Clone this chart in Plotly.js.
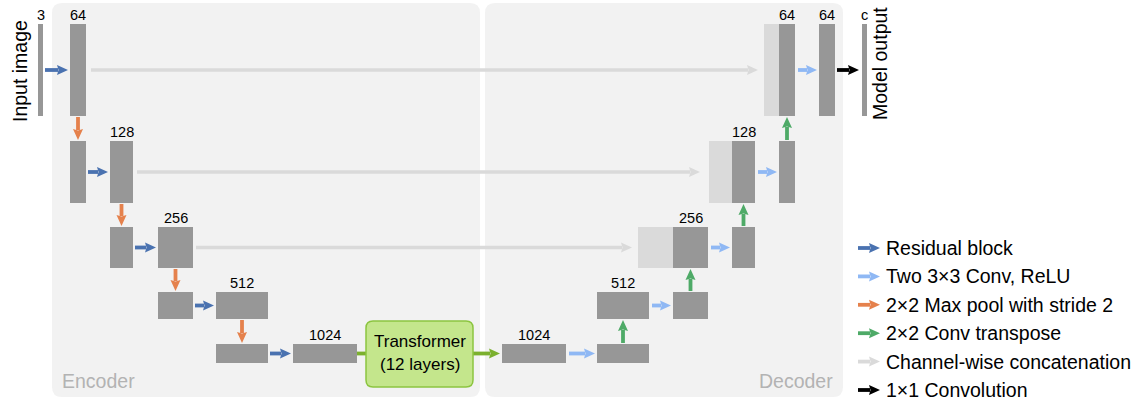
<!DOCTYPE html>
<html><head><meta charset="utf-8">
<script src="https://cdn.plot.ly/plotly-3.0.1.min.js"></script>
<style>body{margin:0;background:#fff}#chart{width:1146px;height:400px}</style>
</head><body><div id="chart"></div>
<script>
// ---- content ----
const encoderChannels = ['64', '128', '256', '512', '1024'];
const decoderChannels = ['1024', '512', '256', '128', '64'];
const inputChannels = '3';
const outputChannels = 'c';
const finalChannels = '64';
const transformerLabel = ['Transformer', '(12 layers)'];
const legendLabels = ['Residual block', 'Two 3×3 Conv, ReLU', '2×2 Max pool with stride 2',
  '2×2 Conv transpose', 'Channel-wise concatenation', '1×1 Convolution'];
const legendKeys = ['res', 'conv', 'pool', 'up', 'cat', 'out'];
const panelLabels = ['Encoder', 'Decoder'];
const sideLabels = ['Input image', 'Model output'];

// ---- styles ----
const COL = {res: '#4a72b0', conv: '#8fb8f4', pool: '#e5814c', up: '#4eaa67', cat: '#dadada',
  out: '#000000', trans: '#7bb02e', block: '#979797', light: '#dadada', panel: '#f2f2f2'};
const FONT = 'Liberation Sans, Arial, sans-serif';

// ---- layout geometry (pixel space of the drawing) ----
const rowTop = [24, 141, 227, 292, 344];
const rowBot = [116, 203, 268, 319, 363];
const rowMid = rowTop.map((t, i) => (t + rowBot[i]) / 2);
const encPool = [[38, 43], [70, 86], [110, 133], [158, 193], [216, 268]]; // row0: input bar
const encConv = [[70, 86], [110, 133], [158, 193], [216, 268], [293, 357]];
const decMain = [[779, 795], [732, 755], [673, 708], [597, 649], [502, 566]]; // dark block
const decLight = [[764, 779], [709, 732], [638, 673], null, null];
const decConv = [[819, 835], [779, 795], [732, 755], [673, 708], [597, 649]];
const outBar = [862, 867];

const shapes = [];
const ann = [];

function rrect(x0, y0, x1, y1, r) {
  return `M${x0 + r},${y0} L${x1 - r},${y0} Q${x1},${y0} ${x1},${y0 + r} L${x1},${y1 - r} Q${x1},${y1} ${x1 - r},${y1} L${x0 + r},${y1} Q${x0},${y1} ${x0},${y1 - r} L${x0},${y0 + r} Q${x0},${y0} ${x0 + r},${y0} Z`;
}
function rect(x, r, color) {
  shapes.push({type: 'rect', xref: 'x', yref: 'y', x0: x[0], x1: x[1], y0: rowTop[r], y1: rowBot[r],
    fillcolor: color, line: {width: 0}});
}
function arrow(x0, y0, x1, y1, color, lw, hl, hw) {
  lw = lw || 3.8; hl = hl || 11; hw = hw || 5;
  const L = Math.hypot(x1 - x0, y1 - y0), dx = (x1 - x0) / L, dy = (y1 - y0) / L;
  const bx = x1 - dx * hl, by = y1 - dy * hl, px = -dy, py = dx;
  shapes.push({type: 'line', xref: 'x', yref: 'y', x0: x0, y0: y0, x1: bx + dx * 1, y1: by + dy * 1,
    line: {color: color, width: lw}});
  shapes.push({type: 'path', xref: 'x', yref: 'y',
    path: `M${x1},${y1} L${bx + px * hw},${by + py * hw} L${bx + dx * 1.5},${by + dy * 1.5} L${bx - px * hw},${by - py * hw} Z`,
    fillcolor: color, line: {width: 0}});
}
function text(x, y, t, size, color, opts) {
  ann.push(Object.assign({x: x, y: y, xref: 'x', yref: 'y', text: t, showarrow: false,
    xanchor: 'center', yanchor: 'middle', font: {family: FONT, size: size, color: color || '#000'}}, opts || {}));
}

// panels
shapes.push({type: 'path', path: rrect(52, 3, 480, 397, 10), fillcolor: COL.panel, line: {width: 0}});
shapes.push({type: 'path', path: rrect(485, 3, 843, 397, 10), fillcolor: COL.panel, line: {width: 0}});

// skip connections (gray)
arrow(encConv[0][1] + 5, rowMid[0], decLight[0][0] - 6, rowMid[0], COL.cat, 3.5);
arrow(encConv[1][1] + 4, rowMid[1], decLight[1][0] - 9, rowMid[1], COL.cat, 3.5);
arrow(encConv[2][1] + 3, rowMid[2], decLight[2][0] - 6, rowMid[2], COL.cat, 3.5);

// encoder blocks
for (let r = 0; r < 5; r++) {
  rect(encPool[r], r, COL.block);
  rect(encConv[r], r, COL.block);
}
// decoder blocks
for (let r = 0; r < 5; r++) {
  if (decLight[r]) rect(decLight[r], r, COL.light);
  rect(decMain[r], r, COL.block);
  rect(decConv[r], r, COL.block);
}
rect(outBar, 0, COL.block);

// encoder arrows
for (let r = 0; r < 5; r++) {
  arrow(encPool[r][1] + 2, rowMid[r], encConv[r][0] - 2, rowMid[r], COL.res);
  if (r < 4) {
    const cx = (encConv[r][0] + encConv[r][1]) / 2;
    arrow(cx, rowBot[r] + 1, cx, rowTop[r + 1] - 1, COL.pool);
  }
}
// transformer
shapes.push({type: 'line', x0: 357, x1: 367, y0: rowMid[4], y1: rowMid[4], line: {color: COL.trans, width: 3.8}});
arrow(473, rowMid[4], 500, rowMid[4], COL.trans);
shapes.push({type: 'path', path: rrect(366, 321, 473, 387, 7), fillcolor: '#c4e68c', line: {color: '#8cc540', width: 1.5}});
text(419.5, 341, transformerLabel[0], 17);
text(419.5, 364, transformerLabel[1], 17);

// decoder arrows
for (let r = 0; r < 5; r++) {
  arrow(decMain[r][1] + 3, rowMid[r], decConv[r][0] - 2, rowMid[r], COL.conv);
  if (r > 0) {
    const cx = (decConv[r][0] + decConv[r][1]) / 2;
    arrow(cx, rowTop[r] - 1, cx, rowBot[r - 1] + 1, COL.up);
  }
}
arrow(decConv[0][1] + 2, rowMid[0], outBar[0] - 3, rowMid[0], COL.out);

// channel labels
const LS = 14.5;
text((encPool[0][0] + encPool[0][1]) / 2, rowTop[0] - 9.3, inputChannels, LS);
for (let r = 0; r < 5; r++) text((encConv[r][0] + encConv[r][1]) / 2, rowTop[r] - 9.3, encoderChannels[r], LS);
for (let r = 0; r < 5; r++) text((decMain[r][0] + decMain[r][1]) / 2, rowTop[r] - 9.3, decoderChannels[4 - r], LS);
text((decConv[0][0] + decConv[0][1]) / 2, rowTop[0] - 9.3, finalChannels, LS);
text((outBar[0] + outBar[1]) / 2, rowTop[0] - 9.3, outputChannels, LS);

// side labels
text(20, 71, sideLabels[0], 19.5, '#000', {textangle: -90});
text(880, 64, sideLabels[1], 19.5, '#000', {textangle: -90});

// panel labels
text(60, 381, panelLabels[0], 19.5, '#b3b3b3', {xanchor: 'left'});
text(835, 381, panelLabels[1], 19.5, '#b3b3b3', {xanchor: 'right'});

// legend
const legY0 = 248, legDy = 28.4;
legendKeys.forEach((k, i) => {
  const y = legY0 + i * legDy;
  arrow(858, y, 880, y, COL[k]);
  text(884, y, legendLabels[i], 19.5, '#000', {xanchor: 'left'});
});

const layout = {
  width: 1146, height: 400, margin: {l: 0, r: 0, t: 0, b: 0},
  paper_bgcolor: '#ffffff', plot_bgcolor: '#ffffff', showlegend: false,
  xaxis: {range: [0, 1146], visible: false, fixedrange: true},
  yaxis: {range: [400, 0], visible: false, fixedrange: true},
  shapes: shapes, annotations: ann
};
Plotly.newPlot('chart', [{x: [], y: [], type: 'scatter', mode: 'markers'}], layout, {staticPlot: true, displayModeBar: false});
</script>
</body></html>
